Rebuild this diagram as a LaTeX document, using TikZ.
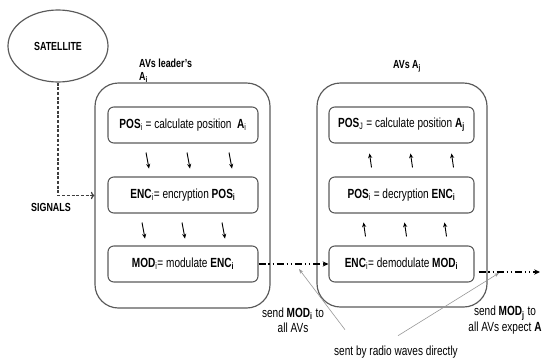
\documentclass[tikz,border=0pt]{standalone}
\usepackage{fontspec}
\setmainfont{Liberation Sans}[FakeStretch=0.76]
\usetikzlibrary{arrows.meta, shapes.geometric, positioning, calc}
\definecolor{FrameGray}{RGB}{90,90,90}
\definecolor{NoteGray}{RGB}{150,150,150}
\newcommand{\bsub}[2]{\textbf{#1}\textsubscript{\textbf{#2}}}
\tikzset{
  group/.style={draw=FrameGray, line width=1pt, rounded corners=20pt},
  stepbox/.style={draw=FrameGray, line width=0.9pt, rounded corners=5pt, minimum height=1.08cm},
  flow/.style={-{Stealth[length=4pt,width=3.5pt]}, line width=0.8pt},
  radio/.style={-{Stealth[length=5pt,width=4.5pt]}, line width=0.9pt, dash pattern=on 6pt off 2.5pt on 1pt off 2.5pt on 1pt off 2.5pt},
  note/.style={NoteGray, line width=0.5pt, -{Stealth[length=4pt,width=3pt]}}
}
\begin{document}
\begin{tikzpicture}[x=0.03cm, y=-0.03cm, font=\fontsize{11.3}{13}\selectfont]
\useasboundingbox (0,0) rectangle (542,360);

\node[draw=FrameGray, ellipse, line width=1pt, minimum width=3cm, minimum height=2.16cm, font=\bfseries] (sat) at (58,46) {SATELLITE};
\node[font=\bfseries] (signals) at (51,207) {SIGNALS};

% the two groups
\node[group, minimum width=5.25cm, minimum height=6.75cm] (leader) at (182.5,195.5) {};
\node[group, minimum width=5.1cm, minimum height=6.72cm] (member) at (402,195) {};
\node[anchor=north west, align=left, font=\bfseries, inner sep=0pt] (leadtitle) at (139,59) {AVs leader's\\[-1pt]A\textsubscript{i}};
\node[font=\bfseries] (memtitle) at (407,66) {AVs A\textsubscript{j}};

% leader steps
\node[stepbox, minimum width=4.5cm] (calcL) at (183,125) {\textbf{POS}\textsubscript{i} = calculate position \ \textbf{A}\textsubscript{i}};
\node[stepbox, minimum width=4.5cm] (encL) at (183,195) {\textbf{ENC}\textsubscript{i}= encryption \bsub{POS}{i}};
\node[stepbox, minimum width=4.5cm] (modL) at (183,264) {\textbf{MOD}\textsubscript{i}= modulate \bsub{ENC}{i}};

% member steps
\node[stepbox, minimum width=4.35cm] (calcR) at (401.5,125) {\textbf{POS}\textsubscript{J} = calculate position \bsub{A}{j}};
\node[stepbox, minimum width=4.35cm] (decR) at (401.5,195) {\textbf{POS}\textsubscript{i} = decryption \bsub{ENC}{i}};
\node[stepbox, minimum width=4.35cm] (demR) at (401.5,264) {\textbf{ENC}\textsubscript{i}= demodulate \bsub{MOD}{i}};

\foreach \dx in {-37,4,46}
  \draw[flow] ($(calcL.south)+(\dx,9)$) -- ++(3,16);
\foreach \dx in {-41,-1,39}
  \draw[flow] ($(encL.south)+(\dx,9)$) -- ++(3,16);
\foreach \dx in {-32,9,50}
  \draw[flow] ($(decR.north)+(\dx+2,-9)$) -- ++(-2,-14);
\foreach \dx in {-38,3,43}
  \draw[flow] ($(demR.north)+(\dx+2,-9)$) -- ++(-2,-14);

\draw[FrameGray!70!black, line width=1pt, dash pattern=on 2.5pt off 1.5pt, -{To[length=3pt]}] (sat.south) |- (leader.west);

% sending between the groups
\coordinate (relay) at (540,272);
\draw[radio] (modL.east) -- (demR.west);
\draw[radio] ($(demR.east)+(4,8)$) -- (relay);

\node[align=center] (sendall) at (293,320) {send \bsub{MOD}{i} to\\all AVs};
\node[align=center] (sendrest) at (505,320) {send \bsub{MOD}{j} to\\all AVs expect \textbf{A}};
\node (radiolbl) at (396,352) {sent by radio waves directly};

\coordinate (hitA) at (299,269);
\coordinate (hitB) at (499,273);
\draw[note] ($(radiolbl.north)+(-51,-12)$) -- (hitA);
\draw[note] ($(radiolbl.north)+(2,-6)$) -- (hitB);
\end{tikzpicture}
\end{document}
